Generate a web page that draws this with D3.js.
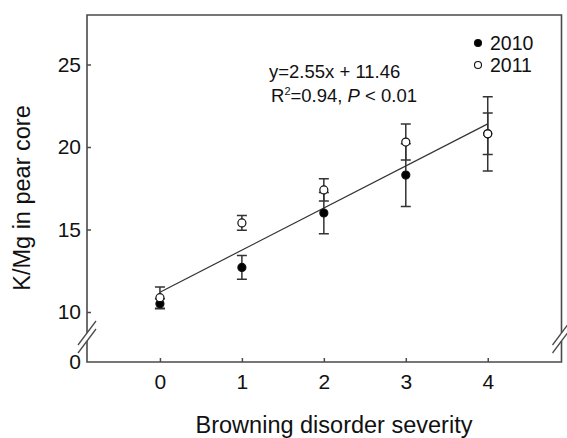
<!DOCTYPE html>
<html>
<head>
<meta charset="utf-8">
<script src="https://cdn.jsdelivr.net/npm/d3@7"></script>
<style>
  body { margin: 0; background: #fff; }
  svg { font-family: "Liberation Sans", Arial, sans-serif; }
</style>
</head>
<body>
<svg id="chart" width="567" height="438"></svg>
<script>
// data
const severity = [0, 1, 2, 3, 4];
const years = ['2010', '2011'];
const mean2010 = [10.5, 12.7, 16.0, 18.3, 20.8];
const err2010 = [0.3, 0.72, 1.25, 1.9, 1.26];
const mean2011 = [10.87, 15.4, 17.4, 20.3, 20.8];
const err2011 = [0.65, 0.45, 0.67, 1.09, 2.25];
// fitted line as drawn (endpoints)
const fitX = [0, 4];
const fitY = [11.2, 21.4];
const yTicksUpper = [10, 15, 20, 25];
const yTicksLower = [0];
const equation = ['y=2.55x + 11.46', 'R²=0.94, P < 0.01'];

const width = 567;
const height = 438;
const plotLeft = 87, plotRight = 561.5, plotTop = 15, plotBottom = 362;

const svg = d3.select('#chart');

const x = d3.scaleLinear().domain([-0.89, 4.9]).range([plotLeft, plotRight]);
// broken y axis: upper segment 10..28, lower segment just holds 0
const y = d3.scaleLinear().domain([10, 28]).range([312, plotTop]);
const yLow = d3.scaleLinear().domain([0, 3]).range([plotBottom, 312]);

const series = [
  { name: years[0], mean: mean2010, err: err2010, fill: '#000' },
  { name: years[1], mean: mean2011, err: err2011, fill: '#fff' }
];

// frame with break marks on both sides
const breakY = (y(10) + yLow(0)) / 2;
const gap = 4;
const frame = svg.append('g')
  .attr('fill', 'none')
  .attr('stroke', '#4a4a4a')
  .attr('stroke-width', 1.6);

frame.append('path')
  .attr('d', `M${plotLeft},${breakY - gap}V${plotTop}H${plotRight}V${breakY - gap}` +
    `M${plotLeft},${breakY + gap}V${plotBottom}H${plotRight}V${breakY + gap}`);

[plotLeft, plotRight].forEach((ax) => {
  [-gap, gap].forEach((o) => {
    frame.append('line')
      .attr('x1', ax - 9).attr('y1', breakY + o + 12)
      .attr('x2', ax + 9).attr('y2', breakY + o - 12)
      .attr('stroke-width', 1.3);
  });
});

// axes
const fontSize = 21;
const fmt = d3.format('d');

const yAxis = svg.append('g')
  .attr('transform', `translate(${plotLeft},0)`)
  .call(d3.axisLeft(y).tickValues(yTicksUpper).tickFormat(fmt)
    .tickSizeInner(-4).tickSizeOuter(0).tickPadding(6));

const yAxisLow = svg.append('g')
  .attr('transform', `translate(${plotLeft},0)`)
  .call(d3.axisLeft(yLow).tickValues(yTicksLower).tickFormat(fmt)
    .tickSize(0).tickPadding(6));

const xAxis = svg.append('g')
  .attr('transform', `translate(0,${plotBottom})`)
  .call(d3.axisBottom(x).tickValues(severity).tickFormat(fmt)
    .tickSizeInner(-4).tickSizeOuter(0).tickPadding(12));

[yAxis, yAxisLow, xAxis].forEach((g) => {
  g.select('.domain').remove();
  g.selectAll('line').attr('stroke', '#4a4a4a').attr('stroke-width', 1.5);
  g.selectAll('text')
    .attr('font-size', fontSize)
    .attr('font-family', '"Liberation Sans", Arial, sans-serif')
    .attr('fill', '#111');
});

// axis titles
svg.append('text')
  .attr('x', 334)
  .attr('y', 433)
  .attr('text-anchor', 'middle')
  .attr('font-size', 23.5)
  .attr('fill', '#111')
  .text('Browning disorder severity');

svg.append('text')
  .attr('transform', `translate(30,${198}) rotate(-90)`)
  .attr('text-anchor', 'middle')
  .attr('font-size', 23.5)
  .attr('fill', '#111')
  .text('K/Mg in pear core');

// regression line
svg.append('line')
  .attr('x1', x(fitX[0])).attr('y1', y(fitY[0]))
  .attr('x2', x(fitX[1])).attr('y2', y(fitY[1]))
  .attr('stroke', '#333')
  .attr('stroke-width', 1.2);

// error bars
const capW = 5;
series.forEach((s) => {
  const g = svg.append('g')
    .attr('stroke', '#333')
    .attr('stroke-width', 1.5)
    .attr('fill', 'none');
  g.selectAll('path')
    .data(severity)
    .join('path')
    .attr('d', (d, i) => {
      const cx = x(d);
      const y1 = y(s.mean[i] + s.err[i]);
      const y2 = y(s.mean[i] - s.err[i]);
      return `M${cx - capW},${y1}H${cx + capW}M${cx},${y1}V${y2}M${cx - capW},${y2}H${cx + capW}`;
    });
});

// markers
series.forEach((s) => {
  svg.append('g')
    .selectAll('circle')
    .data(severity)
    .join('circle')
    .attr('cx', (d) => x(d))
    .attr('cy', (d, i) => y(s.mean[i]))
    .attr('r', 4)
    .attr('fill', s.fill)
    .attr('stroke', '#111')
    .attr('stroke-width', 1.2);
});

// legend
const legend = svg.append('g').attr('transform', 'translate(478,43)');
series.forEach((s, i) => {
  const row = legend.append('g').attr('transform', `translate(0,${i * 22})`);
  row.append('circle')
    .attr('r', 3.5)
    .attr('fill', s.fill)
    .attr('stroke', '#111')
    .attr('stroke-width', 1.1);
  row.append('text')
    .attr('x', 12)
    .attr('dy', '0.35em')
    .attr('font-size', 19.5)
    .attr('fill', '#111')
    .text(s.name);
});

// equation annotation
const eq = svg.append('g').attr('font-size', 18.5).attr('fill', '#111');
eq.append('text').attr('x', 269).attr('y', 78).text(equation[0]);
const eq2 = eq.append('text').attr('x', 271).attr('y', 102);
eq2.append('tspan').text('R');
eq2.append('tspan').attr('font-size', 11).attr('dy', -7).text('2');
eq2.append('tspan').attr('dy', 7).text('=0.94, ');
eq2.append('tspan').attr('font-style', 'italic').text('P');
eq2.append('tspan').text(' < 0.01');
</script>
</body>
</html>
